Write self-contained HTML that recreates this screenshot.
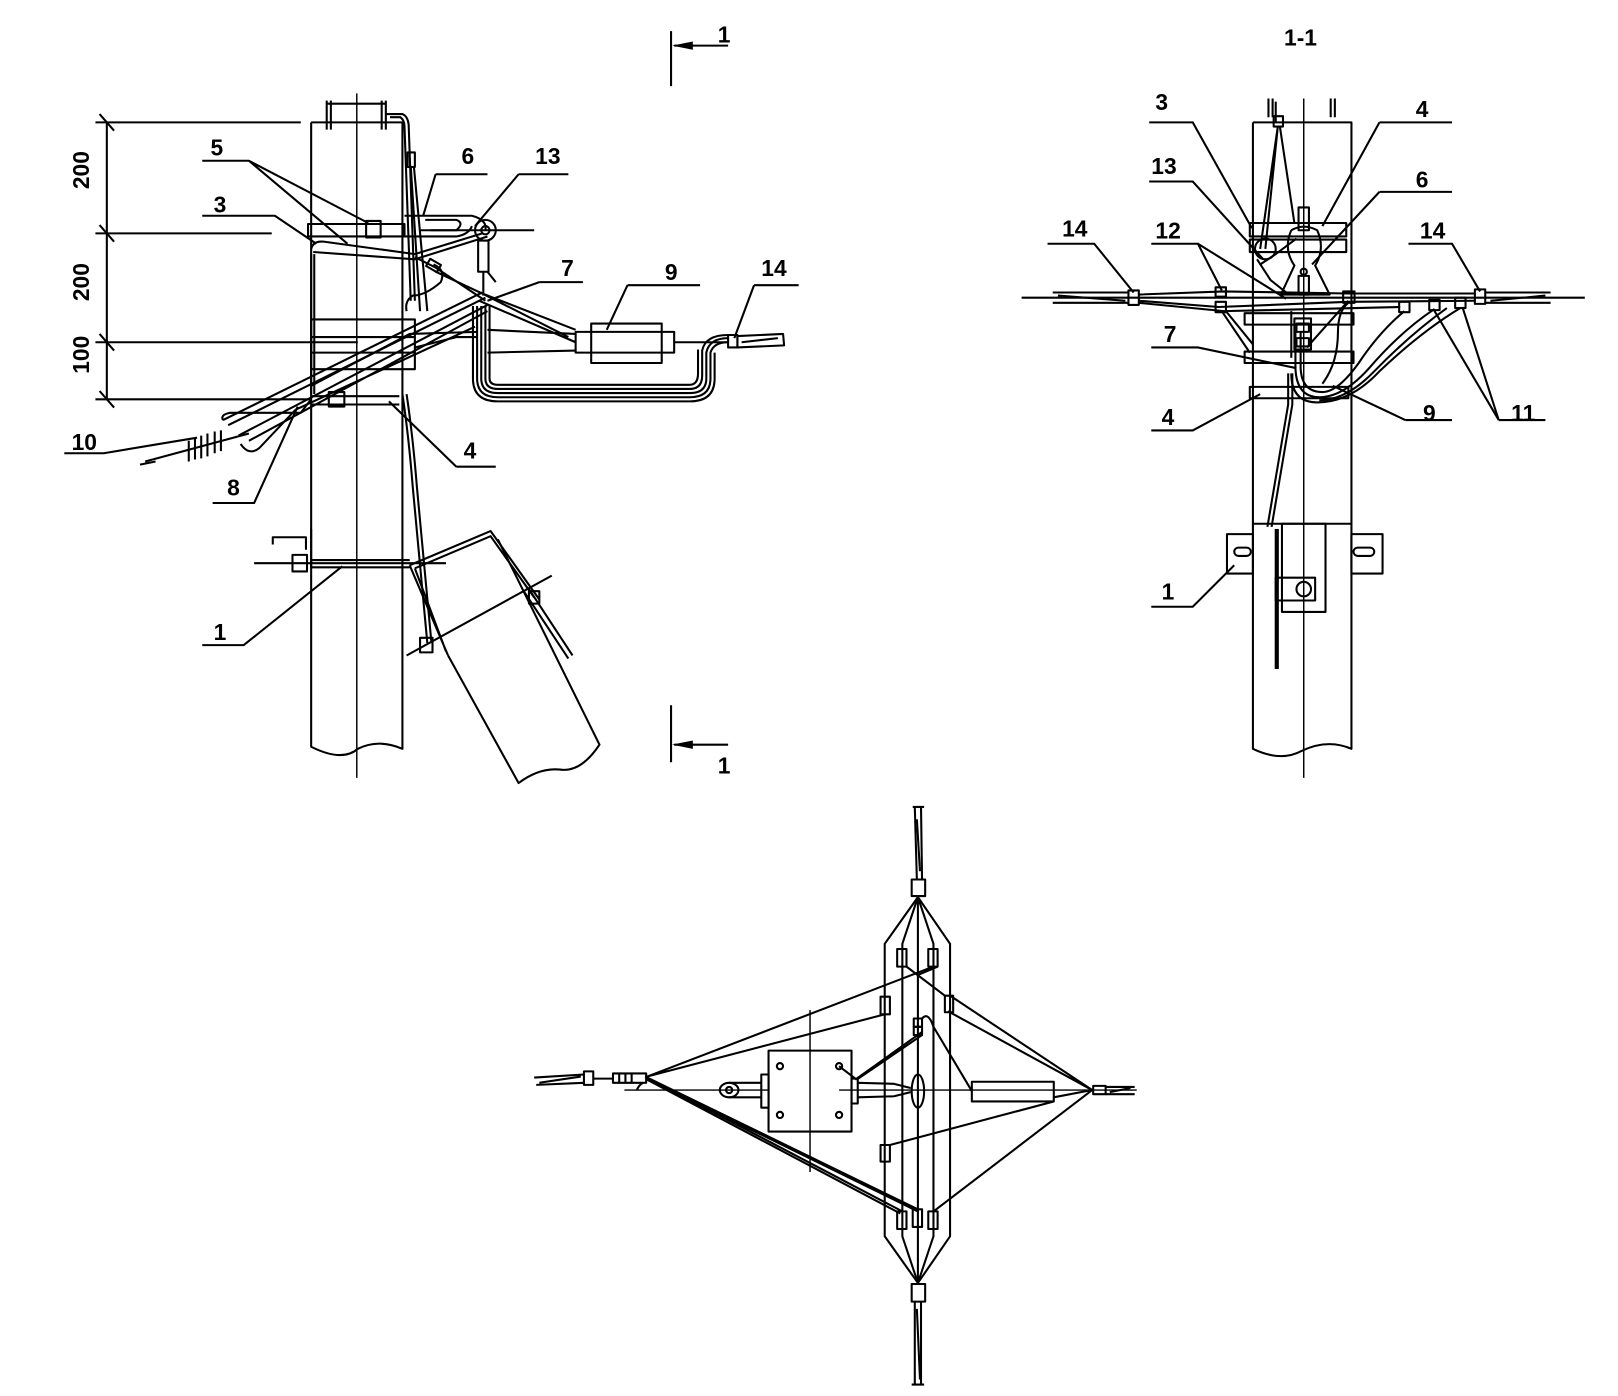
<!DOCTYPE html>
<html><head><meta charset="utf-8"><style>
html,body{margin:0;padding:0;background:#fff;}
svg{display:block;}
text{font-family:"Liberation Sans",Arial,sans-serif;font-weight:bold;font-size:22px;fill:#000;}
</style></head><body>
<svg width="1618" height="1396" viewBox="0 0 1560 1346" preserveAspectRatio="none" xmlns="http://www.w3.org/2000/svg">
<g fill="none" stroke="#000" stroke-width="2" stroke-linejoin="round">

<!-- ================= LEFT VIEW ================= -->
<path d="M300 118 V720 Q330 735 345 722 Q365 712 388 722 V118 H300"/>
<line x1="344" y1="90" x2="344" y2="750" stroke-width="1.4"/>
<path d="M315 100 H372 M315 97 V125 M319 97 V125 M368 97 V125 M372 97 V125"/>
<path d="M372 110 H388 Q393 112 394 120 L400 290 M376 113 H386 Q390 116 390 122 L396 290"/>
<rect x="393" y="147" width="7" height="14"/>
<path d="M396 160 L405 300 M399 160 L412 300"/>
<line x1="103" y1="118" x2="103" y2="385"/>
<path d="M92 118 H290 M92 225 H262 M92 330 H345 M92 385 H300"/>
<path d="M96 110 L110 126 M96 217 L110 233 M96 322 L110 338 M96 377 L110 393"/>
<rect x="297" y="216" width="93" height="12"/>
<rect x="353" y="213" width="14" height="16"/>
<rect x="300" y="308" width="100" height="48"/>
<path d="M300 325 H400 M300 340 H400"/>
<path d="M300 382 H385 M300 390 H385"/>
<rect x="317" y="378" width="15" height="14"/>
<path d="M390 208 H455 Q470 212 468 222 M390 228 H440 Q452 226 455 218 M410 212 H440 Q448 215 440 222 H405"/>
<line x1="415" y1="222" x2="515" y2="222"/>
<circle cx="468" cy="222" r="10"/>
<circle cx="468" cy="222" r="4"/>
<rect x="461" y="232" width="10" height="30"/>
<path d="M466 262 V285 M470 262 L478 272"/>
<path d="M300 240 Q302 232 312 233 L400 245 L465 225 M302 243 L400 250 L470 228"/>
<path d="M400 248 L420 258 L468 290 M418 255 Q430 260 425 272 Q410 285 398 285 Q390 290 392 300"/>
<rect x="412" y="252" width="12" height="8" transform="rotate(30 418 256)"/>
<path d="M300 245 V380 M303 245 V380"/>
<path d="M465 283 L420 262 M465 283 L548 325 M465 283 L555 318 M462 290 L555 330"/>
<path d="M465 282 L215 405 M468 287 L220 410 M470 294 L230 420 M470 300 L240 425 M458 315 L285 395"/>
<path d="M215 405 Q212 400 222 398 H290 L300 385 M232 428 Q240 440 250 432 L285 395"/>
<path d="M460 320 L395 322 L300 372 M460 325 H440 L400 335"/>
<path d="M140 445 L240 418 M135 448 L150 445"/>
<path d="M182 425 V445 M188 422 V443 M194 420 V442 M200 418 V440 M207 416 V437 M213 415 V435"/>
<path d="M460 295 V365 Q460 383 480 383 H665 Q685 383 685 365 V340 Q688 330 702 330"/>
<path d="M464 295 V365 Q464 379 480 379 H665 Q681 379 681 365 V340 Q684 326 702 326"/>
<path d="M468 295 V365 Q468 375 480 375 H665 Q677 375 677 362 V338 Q680 323 702 323"/>
<path d="M472 295 V365 Q472 371 480 371 H665 Q673 371 673 360 V337"/>
<path d="M456 295 V365 Q456 387 480 387 H665 Q689 387 689 365 V340"/>
<rect x="570" y="312" width="68" height="38"/>
<rect x="555" y="320" width="95" height="20"/>
<path d="M470 318 L555 322 M470 340 L555 338"/>
<path d="M650 330 H702"/>
<rect x="702" y="323" width="9" height="12"/>
<path d="M711 324 L755 322 L756 333 L711 335 Z M715 330 L750 326"/>
<line x1="245" y1="543" x2="430" y2="543"/>
<path d="M300 540 H395 M300 547 H395"/>
<path d="M300 510 V548 M263 525 V518 H295 V530"/>
<rect x="282" y="535" width="14" height="16"/>
<path d="M388 380 Q394 420 398 470 L412 620 M392 380 Q398 420 402 470 L416 620"/>
<path d="M395 545 L473 512 L520 578 M400 548 L473 517 L515 576"/>
<path d="M395 545 L432 632 M400 548 L430 628"/>
<path d="M432 632 L500 755 Q520 740 540 742 Q560 745 578 718 L480 520"/>
<path d="M392 632 L532 555"/>
<rect x="405" y="615" width="12" height="14"/>
<path d="M505 570 L548 635 M510 568 L552 632"/>
<rect x="510" y="570" width="10" height="12"/>

<path d="M195 155 H240 L355 215 M240 155 L335 235"/>
<path d="M195 208 H265 L305 235"/>
<path d="M420 168 H470 M420 168 L408 208"/>
<path d="M500 168 H548 M500 168 L458 218"/>
<path d="M520 272 H562 M520 272 L470 290"/>
<path d="M605 275 H675 M605 275 L585 318"/>
<path d="M727 275 H770 M727 275 L708 326"/>
<path d="M440 450 H478 M440 450 L375 387"/>
<path d="M62 437 H100 L190 422"/>
<path d="M205 485 H245 L287 392"/>
<path d="M195 622 H235 L330 546"/>
<path d="M647 30 V83 M650 44 H702 M647 680 V735 M650 718 H702"/>
</g>
<path d="M648 44 L668 40 V48 Z M648 718 L668 714 V722 Z" fill="#000"/>

<g>
<text x="203" y="150">5</text><text x="206" y="205">3</text>
<text x="445" y="158">6</text><text x="516" y="158">13</text>
<text x="541" y="266">7</text><text x="641" y="270">9</text>
<text x="734" y="266">14</text><text x="447" y="442">4</text>
<text x="69" y="434">10</text><text x="219" y="478">8</text>
<text x="206" y="617">1</text>
<text x="692" y="41">1</text><text x="692" y="746">1</text>
<text x="86" y="182" transform="rotate(-90 86 182)" text-anchor="middle" dx="18">200</text>
<text x="86" y="290" transform="rotate(-90 86 290)" text-anchor="middle" dx="18">200</text>
<text x="86" y="360" transform="rotate(-90 86 360)" text-anchor="middle" dx="18">100</text>
<text x="1238" y="44">1-1</text>
</g>

<!-- ================= RIGHT VIEW ================= -->
<g fill="none" stroke="#000" stroke-width="2" stroke-linejoin="round">
<path d="M1208 118 V722 Q1235 735 1255 724 Q1280 712 1303 722 V118 H1208"/>
<line x1="1257" y1="95" x2="1257" y2="750" stroke-width="1.4"/>
<path d="M1223 95 V113 M1227 95 V113 M1283 95 V113 M1287 95 V113"/>
<path d="M1230 98 V118"/>
<rect x="1228" y="112" width="9" height="10"/>
<path d="M1232 122 L1215 240 M1234 122 L1248 215 M1232 122 L1220 240"/>
<rect x="1205" y="215" width="93" height="13"/>
<rect x="1205" y="231" width="93" height="12"/>
<rect x="1252" y="200" width="10" height="22"/>
<circle cx="1220" cy="240" r="10"/>
<path d="M1245 222 Q1237 240 1248 256 L1235 284 H1282 L1268 256 Q1278 240 1270 222 Q1257 215 1245 222"/>
<circle cx="1257" cy="262" r="3"/>
<rect x="1252" y="266" width="10" height="18"/>
<path d="M1212 250 L1225 270 L1240 282 M1215 255 L1230 245 L1250 230"/>
<line x1="985" y1="287" x2="1528" y2="287"/>
<path d="M1015 282 H1088 M1015 292 H1088 M1020 285 L1085 290 M1432 282 H1495 M1432 292 H1495 M1437 290 L1490 285"/>
<rect x="1088" y="280" width="10" height="14"/>
<rect x="1422" y="279" width="10" height="14"/>
<path d="M1098 284 L1180 281 L1300 283 L1422 283 M1098 290 L1175 296 L1300 291 L1422 290 M1098 292 L1180 300 L1350 296"/>
<rect x="1172" y="291" width="10" height="10"/>
<rect x="1172" y="277" width="10" height="9"/>
<rect x="1295" y="281" width="11" height="11"/>
<rect x="1349" y="291" width="10" height="10"/>
<rect x="1378" y="289" width="10" height="10"/>
<rect x="1403" y="287" width="10" height="10"/>
<path d="M1178 300 L1205 340 M1182 300 L1208 332"/>
<rect x="1200" y="302" width="105" height="11"/>
<rect x="1200" y="339" width="105" height="11"/>
<rect x="1205" y="373" width="95" height="11"/>
<rect x="1248" y="307" width="16" height="30"/>
<rect x="1250" y="312" width="12" height="8"/>
<rect x="1250" y="326" width="12" height="8"/>
<path d="M1245 300 V345"/>
<path d="M1354 300 Q1330 320 1310 350 Q1290 378 1275 378 Q1255 378 1254 355 V320"/>
<path d="M1383 298 Q1350 320 1320 355 Q1295 383 1272 383 Q1250 383 1249 355 V320"/>
<path d="M1408 297 Q1370 320 1330 358 Q1302 388 1270 388 Q1245 388 1245 360"/>
<path d="M1300 292 Q1290 300 1290 320 Q1290 350 1275 370"/>
<path d="M1395 297 Q1360 322 1325 358 Q1298 386 1272 386"/>
<path d="M1300 290 L1260 335"/>
<path d="M1242 360 V390 L1222 508 M1246 360 V390 L1226 508"/>
<rect x="1183" y="515" width="25" height="38"/>
<rect x="1303" y="515" width="30" height="38"/>
<rect x="1190" y="528" width="16" height="8" rx="4"/>
<rect x="1305" y="528" width="20" height="8" rx="4"/>
<rect x="1236" y="505" width="42" height="85"/>
<rect x="1230" y="557" width="38" height="22"/>
<circle cx="1257" cy="568" r="7"/>
<path d="M1208 505 H1303"/>
</g>
<rect x="1229" y="510" width="4" height="135" fill="#000"/>
<g fill="none" stroke="#000" stroke-width="2">
<path d="M1108 118 H1150 L1207 220"/>
<path d="M1330 118 H1400 M1330 118 L1275 218"/>
<path d="M1108 175 H1150 L1218 250"/>
<path d="M1330 185 H1400 M1330 185 L1265 255"/>
<path d="M1010 235 H1055 L1093 282"/>
<path d="M1110 235 H1155 L1178 280 M1155 235 L1240 288"/>
<path d="M1358 235 H1400 L1427 281"/>
<path d="M1110 335 H1155 L1250 355"/>
<path d="M1355 405 H1400 M1355 405 L1285 372"/>
<path d="M1445 405 H1490 M1445 405 L1382 298 M1445 405 L1410 296"/>
<path d="M1110 415 H1150 L1215 380"/>
<path d="M1110 585 H1150 L1190 545"/>
</g>
<g>
<text x="1114" y="106">3</text><text x="1365" y="113">4</text>
<text x="1110" y="168">13</text><text x="1365" y="181">6</text>
<text x="1024" y="228">14</text><text x="1114" y="230">12</text>
<text x="1369" y="230">14</text><text x="1122" y="330">7</text>
<text x="1372" y="406">9</text><text x="1457" y="406">11</text>
<text x="1120" y="410">4</text><text x="1120" y="578">1</text>
</g>

<!-- ================= BOTTOM VIEW ================= -->
<g fill="none" stroke="#000" stroke-width="2" stroke-linejoin="round">
<path d="M882 778 L884 848 M888 778 L889 848 M880 778 H891 M882 1255 L882 1335 M888 1255 L888 1335 M879 1335 H891"/>
<path d="M884 790 L887 840 M884 1262 L887 1330"/>
<rect x="879" y="848" width="13" height="16"/>
<rect x="879" y="1238" width="13" height="17"/>
<path d="M885 865 L853 910 V1192 L885 1237 L916 1192 V910 Z"/>
<path d="M885 865 L870 910 V1192 L885 1237 L900 1192 V910 Z M885 865 V1237"/>
<rect x="865" y="915" width="9" height="17"/>
<rect x="895" y="915" width="9" height="17"/>
<rect x="849" y="961" width="9" height="17"/>
<rect x="911" y="960" width="8" height="16"/>
<rect x="881" y="982" width="8" height="8"/>
<rect x="881" y="990" width="8" height="8"/>
<rect x="849" y="1104" width="9" height="16"/>
<rect x="865" y="1168" width="9" height="17"/>
<rect x="880" y="1166" width="9" height="17"/>
<rect x="895" y="1168" width="9" height="17"/>
<path d="M624 1038 L900 932 M624 1038 L853 978 M624 1039 L870 1168 M624 1041 L868 1170 M624 1040 L885 1168 M622 1038 L885 1166"/>
<path d="M1053 1051 L916 960 M1053 1051 L914 975 M1053 1051 L900 1168 M1053 1051 L1016 1058 M1016 1062 L858 1104"/>
<path d="M874 932 L911 960 M904 932 L885 940"/>
<path d="M889 998 L826 1041 M889 995 L826 1040"/>
<path d="M889 982 Q895 975 900 990 L937 1052"/>
<rect x="741" y="1013" width="80" height="78"/>
<circle cx="752" cy="1028" r="3"/><circle cx="809" cy="1028" r="3"/>
<circle cx="752" cy="1075" r="3"/><circle cx="809" cy="1075" r="3"/>
<line x1="809" y1="1028" x2="826" y2="1041"/>
<line x1="781" y1="974" x2="781" y2="1130" stroke-width="1.4"/>
<line x1="602" y1="1051" x2="740" y2="1051" stroke-width="1.4"/>
<line x1="809" y1="1051" x2="1096" y2="1051" stroke-width="1.4"/>
<ellipse cx="703" cy="1051" rx="9" ry="7"/>
<circle cx="703" cy="1051" r="3"/>
<path d="M703 1044 H734 M703 1058 H734"/>
<rect x="734" y="1036" width="7" height="32"/>
<rect x="821" y="1040" width="6" height="24"/>
<path d="M827 1044 L862 1045 L878 1049 M827 1058 L862 1057 L878 1053"/>
<ellipse cx="885" cy="1052" rx="6" ry="16"/>
<rect x="937" y="1043" width="79" height="19"/>
<path d="M515 1039 L563 1036 M517 1046 L563 1044 M520 1044 L560 1038"/>
<rect x="563" y="1033" width="9" height="13"/>
<path d="M572 1040 H591"/>
<rect x="591" y="1035" width="32" height="9"/>
<path d="M597 1035 V1044 M603 1035 V1044 M609 1035 V1044"/>
<path d="M614 1051 Q616 1046 620 1044"/>
<rect x="1054" y="1047" width="12" height="8"/>
<path d="M1066 1048 H1094 M1066 1055 H1094 M1070 1053 L1090 1049"/>
</g>
</svg>
</body></html>
